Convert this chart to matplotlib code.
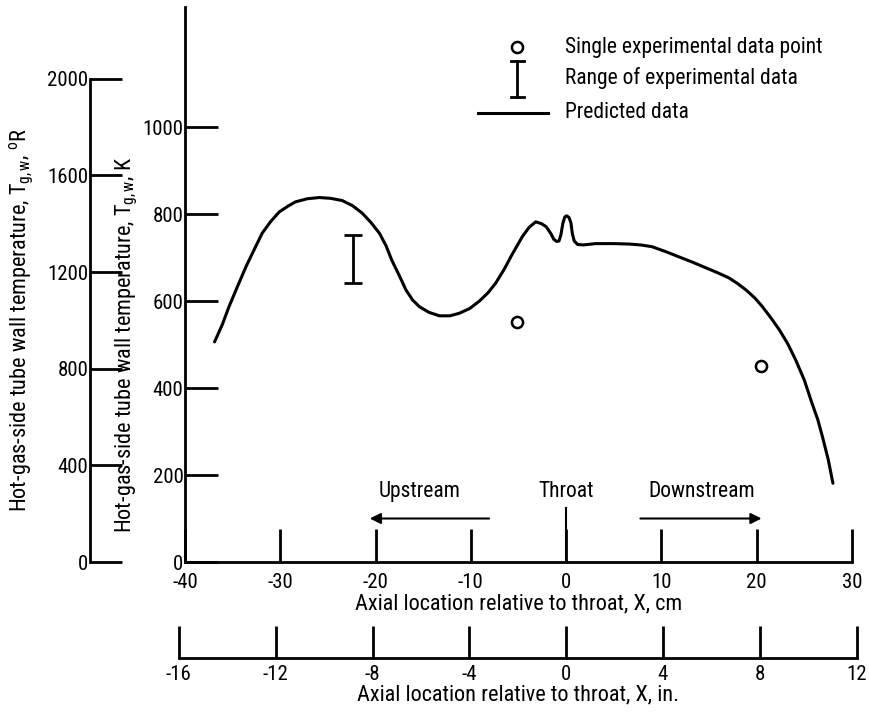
import numpy as np
import matplotlib
matplotlib.use('Agg')
import matplotlib.pyplot as plt
from matplotlib import font_manager

# pick the narrowest sans face we have
names = {f.name for f in font_manager.fontManager.ttflist}
family = 'DejaVu Sans'
for cand in ['Liberation Sans Narrow', 'Roboto Condensed', 'Open Sans Condensed',
             'Noto Sans Condensed', 'DejaVu Sans Condensed', 'Liberation Sans', 'Roboto']:
    if cand in names:
        family = cand
        break
plt.rcParams['font.family'] = [family, 'DejaVu Sans']
plt.rcParams['font.stretch'] = 'condensed'
plt.rcParams['mathtext.fontset'] = 'custom'
plt.rcParams['mathtext.rm'] = family
plt.rcParams['mathtext.it'] = family
plt.rcParams['axes.unicode_minus'] = False

# predicted hot-gas-side wall temperature, K, vs axial location, cm
x_pred = [-36.9, -36.1, -35.4, -34.5, -33.6, -32.7, -31.9, -31.0, -30.1, -29.2,
          -28.4, -27.2, -25.9, -24.7, -23.5, -22.4, -21.4, -20.5, -19.6, -18.9,
          -18.3, -17.5, -16.8, -16.1, -15.4, -14.4, -13.3, -12.2, -11.2, -10.1,
          -9.1, -8.2, -7.4, -6.5, -5.7, -4.6, -3.9, -3.2, -2.6, -2.1, -1.6, -1.3,
          -1.0, -0.75, -0.55, -0.35, -0.15, 0.05, 0.3, 0.5, 0.65, 0.85, 1.2,
          1.8, 3.1, 5.0, 6.6, 7.8, 9.0, 10.4, 11.9, 13.3, 14.7, 15.9, 17.1,
          18.0, 18.9, 19.8, 20.6, 21.5, 22.4, 23.3, 24.1, 25.0, 25.8, 26.4,
          26.9, 27.5, 28.0]
t_pred = [506, 545, 586, 633, 679, 720, 756, 783, 805, 818,
          828, 835, 838, 836, 831, 819, 802, 781, 756, 727,
          694, 658, 625, 602, 587, 574, 566, 566, 572, 583,
          600, 619, 641, 673, 706, 748, 769, 782, 778, 771, 755, 742,
          737, 738, 752, 778, 793, 796, 792, 780, 755, 738, 730,
          729, 732, 732, 731, 729, 725, 714, 701, 689, 676, 665, 653,
          640, 625, 607, 587, 561, 533, 500, 464, 418, 365, 328,
          288, 236, 181]

# single experimental data points
x_single = [-5.2, 20.4]
t_single = [552, 451]

# range of experimental data
x_range = [-22.4]
t_low = [642]
t_high = [752]

xticks_cm = [-40, -30, -20, -10, 0, 10, 20, 30]
yticks_k = [0, 200, 400, 600, 800, 1000]
yticks_r = [0, 400, 800, 1200, 1600, 2000]
xticks_in = [-16, -12, -8, -4, 0, 4, 8, 12]

W, H = 869, 715
fig = plt.figure(figsize=(W / 100, H / 100), dpi=100)


def box(left, bottom, right, top):
    return [left / W, 1 - bottom / H, (right - left) / W, (bottom - top) / H]


def fx(px):
    return px / W


def fy(py):
    return 1 - py / H


lw = 2.0
fs_tick = 15
fs_lab = 16
fs_leg = 15.5
tmax = 1276

# main axes, K vs cm
ax = fig.add_axes(box(185, 562, 852, 7))
ax.set_xlim(-40, 30)
ax.set_ylim(0, tmax)
for s in ['top', 'right']:
    ax.spines[s].set_visible(False)
for s in ['left', 'bottom']:
    ax.spines[s].set_linewidth(lw)
ax.set_xticks(xticks_cm)
ax.set_yticks(yticks_k)
ax.tick_params(direction='in', length=24, width=lw, labelsize=fs_tick)
ax.tick_params(axis='y', pad=1)
ax.tick_params(axis='x', pad=8)
ax.set_xlabel('Axial location relative to throat, X, cm', fontsize=fs_lab, labelpad=1)

ax.plot(x_pred, t_pred, color='black', lw=2.2, solid_capstyle='round')
ax.plot(x_single, t_single, 'o', ms=8, mfc='white', mec='black', mew=1.8)
ax.errorbar(x_range, [(l + h) / 2 for l, h in zip(t_low, t_high)],
            yerr=[[(h - l) / 2 for l, h in zip(t_low, t_high)]] * 2,
            fmt='none', ecolor='black', elinewidth=2.0, capsize=6.5, capthick=2.0)

# flow direction notes
ax.text(-15.4, 161, 'Upstream', fontsize=fs_leg, ha='center', va='center')
ax.text(0, 161, 'Throat', fontsize=fs_leg, ha='center', va='center')
ax.text(14.2, 161, 'Downstream', fontsize=fs_leg, ha='center', va='center')
ax.plot([0, 0], [0, 125], color='black', lw=1.5)
ax.annotate('', xy=(-20.9, 100), xytext=(-7.8, 100),
            arrowprops=dict(arrowstyle='-|>', color='black', lw=1.5, mutation_scale=16))
ax.annotate('', xy=(20.8, 100), xytext=(7.5, 100),
            arrowprops=dict(arrowstyle='-|>', color='black', lw=1.5, mutation_scale=16))

# legend drawn by hand
fig.lines.append(plt.Line2D([fx(517)], [fy(47)], marker='o', ms=8, mfc='white',
                            mec='black', mew=1.8, transform=fig.transFigure))
fig.lines.append(plt.Line2D([fx(517), fx(517)], [fy(61), fy(97)], color='black',
                            lw=2.0, transform=fig.transFigure))
for yy in [61, 97]:
    fig.lines.append(plt.Line2D([fx(510.5), fx(523.5)], [fy(yy), fy(yy)],
                                color='black', lw=2.0, transform=fig.transFigure))
fig.lines.append(plt.Line2D([fx(478), fx(548)], [fy(113), fy(113)], color='black',
                            lw=2.2, transform=fig.transFigure))
fig.text(fx(565), fy(47), 'Single experimental data point', fontsize=fs_leg, va='center')
fig.text(fx(565), fy(78), 'Range of experimental data', fontsize=fs_leg, va='center')
fig.text(fx(565), fy(112), 'Predicted data', fontsize=fs_leg, va='center')

# Rankine scale on the far left
axr = fig.add_axes(box(90, 562, 91, 7))
axr.set_ylim(0, tmax * 1.8)
axr.patch.set_visible(False)
for s in ['top', 'right', 'bottom']:
    axr.spines[s].set_visible(False)
axr.spines['left'].set_linewidth(lw)
axr.spines['left'].set_bounds(0, 2000)
axr.set_xticks([])
axr.set_yticks(yticks_r)
axr.tick_params(direction='in', length=23, width=lw, labelsize=fs_tick, pad=1)

# inch scale below
cm_per_px = 70 / (852 - 185)
left_in = 185 + (xticks_in[0] * 2.54 + 40) / cm_per_px
right_in = 185 + (xticks_in[-1] * 2.54 + 40) / cm_per_px
axi = fig.add_axes(box(left_in, 658, right_in, 600))
axi.set_xlim(xticks_in[0], xticks_in[-1])
axi.patch.set_visible(False)
for s in ['top', 'right', 'left']:
    axi.spines[s].set_visible(False)
axi.spines['bottom'].set_linewidth(lw)
axi.set_yticks([])
axi.set_xticks(xticks_in)
axi.tick_params(direction='in', length=23, width=lw, labelsize=fs_tick, pad=5)
axi.set_xlabel('Axial location relative to throat, X, in.', fontsize=fs_lab, labelpad=0)

# temperature axis titles
fig.text(fx(22), fy(320), r'Hot-gas-side tube wall temperature, T$_{g,w}$, $^{o}$R',
         rotation=90, fontsize=fs_lab, ha='center', va='center')
fig.text(fx(127), fy(345), r'Hot-gas-side tube wall temperature, T$_{g,w}$, K',
         rotation=90, fontsize=fs_lab, ha='center', va='center')

fig.savefig('out.png', dpi=100)
